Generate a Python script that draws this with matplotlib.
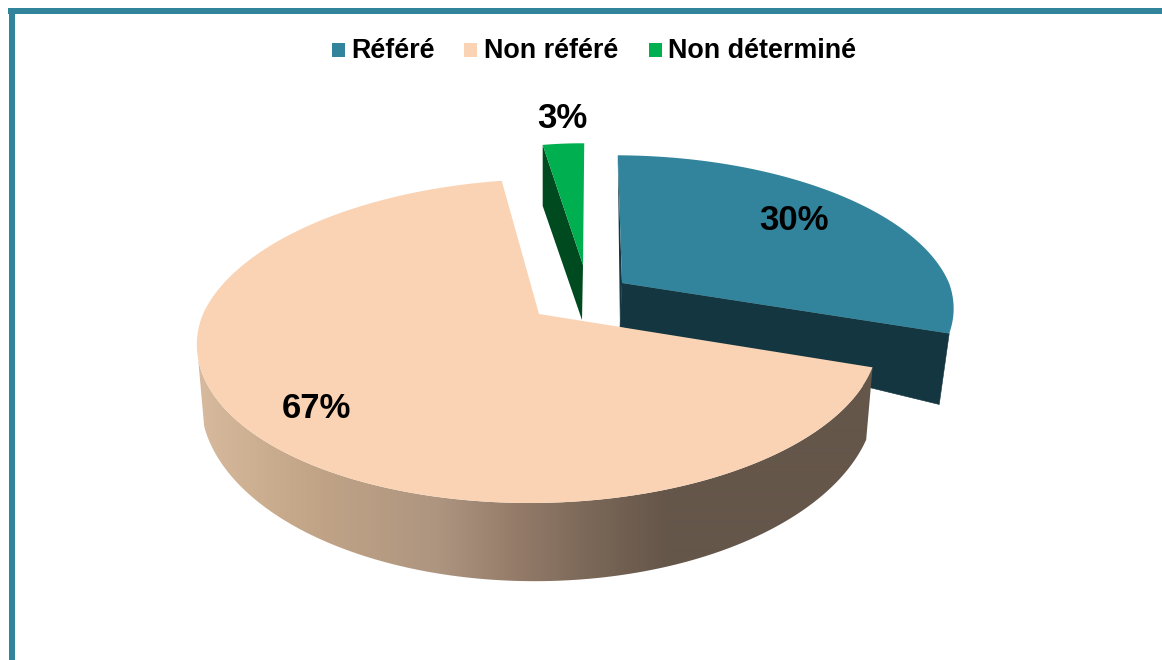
import numpy as np
import matplotlib
matplotlib.use("Agg")
import matplotlib.pyplot as plt
from matplotlib.patches import Polygon, Rectangle
from matplotlib.colors import LinearSegmentedColormap

categories = ["Référé", "Non référé", "Non déterminé"]
values = [30, 67, 3]
top_colors = ["#31849B", "#FAD3B4", "#00B050"]
wall_colors = ["#133641", None, "#004A20"]
label_xy = [(794, 220), (316, 408), (562, 118)]
legend_box_x = [332, 464, 649]
legend_text_x = [351, 484, 668]

START = 89.3
FRAME = "#31849B"
sweeps = np.array(values) / sum(values) * 360.0
ends = START - np.cumsum(sweeps)
starts = ends + sweeps


def rim(t_deg, apex, R, Rk, p, skew=0.0, skew_low=0.0):
    t = np.radians(np.atleast_1d(t_deg))
    w = 1 + p * np.sin(t)
    dx = R * np.cos(t) / w
    dy = -Rk * np.sin(t) / w
    dx = dx + skew * np.minimum(dy, 0) + skew_low * np.maximum(dy, 0)
    return np.column_stack([apex[0] + dx, apex[1] + dy])


fig = plt.figure(figsize=(11.62, 6.60), dpi=100, facecolor="white")
ax = fig.add_axes([0, 0, 1, 1])
ax.set_xlim(0, 1162)
ax.set_ylim(660, 0)
ax.axis("off")

# frame
ax.add_patch(Rectangle((8, 8), 1154, 6, fc=FRAME, ec="none"))
ax.add_patch(Rectangle((9, 8), 6, 652, fc=FRAME, ec="none"))

# --- first slice
a0 = (622, 283)
g0 = dict(apex=a0, R=327, Rk=149, p=1 / 6, skew=0.06)
b_ts = np.linspace(starts[0], ends[0], 120)
b_rim = rim(b_ts, **g0)
ba = np.array([620, 327])
be = b_rim[-1] + [-10, 71]
ax.add_patch(Polygon([a0, b_rim[-1], be, ba], fc=wall_colors[0], ec=wall_colors[0], lw=0.4))
ax.add_patch(Polygon([b_rim[0], a0, ba], fc=wall_colors[0], ec="none"))
ax.add_patch(Polygon(np.vstack([[a0], b_rim]), fc=top_colors[0], ec="none"))

# --- third slice
a2 = (583, 265)
g2 = dict(apex=a2, R=258, Rk=142, p=1 / 6, skew=0.012)
g_ts = np.linspace(starts[2], ends[2], 20)
g_rim = rim(g_ts, **g2)
left = g_rim[0]
ax.add_patch(Polygon([a2, left, left + [0, 61], (582, 320)], fc=wall_colors[2], ec="none"))
ax.add_patch(Polygon(np.vstack([[a2], g_rim]), fc=top_colors[2], ec="none"))

# --- second slice
a1 = (539, 314)
g1 = dict(apex=a1, R=336, Rk=157.5, p=1 / 6, skew=-0.1, skew_low=-0.05)
g1b = dict(apex=(539, 362), R=331, Rk=176, p=0.197, skew_low=-0.02)
t_top = np.linspace(starts[1], -164, 300)
t_bot = -24 + (t_top - starts[1]) * (136 / 145.3)
rt = rim(t_top, **g1)
rb = rim(t_bot, **g1b)
stops_x = np.array([195, 300, 437, 518, 592, 667, 880])
stops_c = ["#D8BA9E", "#C4A688", "#AE9580", "#947B69", "#7A6757", "#65564A", "#65564A"]
cmap = LinearSegmentedColormap.from_list(
    "wall", list(zip((stops_x - stops_x[0]) / (stops_x[-1] - stops_x[0]), stops_c)), N=512)
wall = Polygon(np.vstack([rt, rb[::-1]]), fc="none", ec="none", transform=ax.transData)
ax.add_patch(wall)
im = ax.imshow(np.linspace(0, 1, 685)[None, :], extent=(195, 880, 600, 300), cmap=cmap,
               aspect="auto", interpolation="bilinear", vmin=0, vmax=1, zorder=1.5)
im.set_clip_path(wall)
ax.set_xlim(0, 1162)
ax.set_ylim(660, 0)
p_ts = np.linspace(starts[1], ends[1], 400)
ax.add_patch(Polygon(np.vstack([[a1], rim(p_ts, **g1)]), fc=top_colors[1], ec="none", zorder=2))

# --- labels
font = "Liberation Sans"
for v, (x, y) in zip(values, label_xy):
    ax.text(x, y, f"{v}%", ha="center", va="center", family=font, weight="bold",
            fontsize=25, color="black", zorder=3)

# --- legend
for name, col, bx, tx in zip(categories, top_colors, legend_box_x, legend_text_x):
    ax.add_patch(Rectangle((bx, 43), 13, 14, fc=col, ec="none"))
    ax.text(tx, 58, name, ha="left", va="baseline", family=font, weight="bold",
            fontsize=19.4, color="black", zorder=3)

fig.savefig("out.png", dpi=100, facecolor="white")
